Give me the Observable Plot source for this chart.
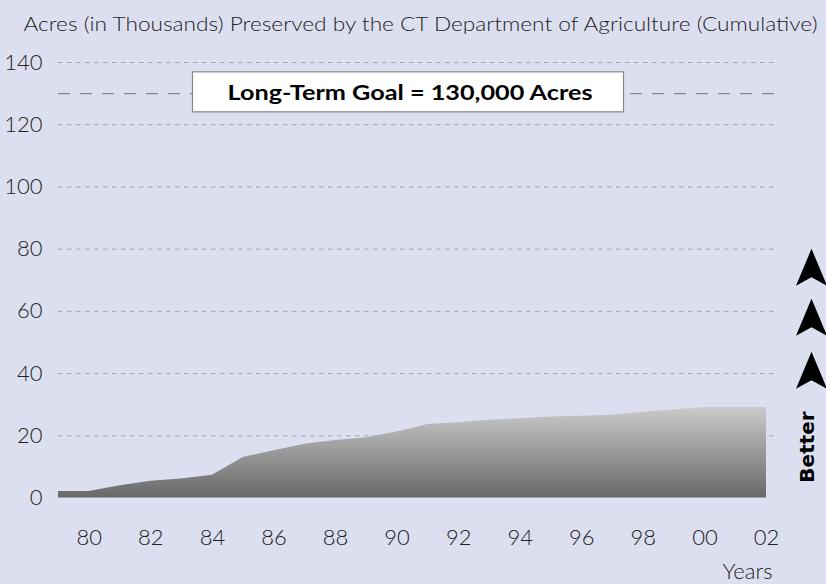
<!DOCTYPE html>
<html><head><meta charset="utf-8">
<script src="https://cdn.jsdelivr.net/npm/d3@7"></script>
<script src="https://cdn.jsdelivr.net/npm/@observablehq/plot@0.6"></script>
<style>
html,body{margin:0;padding:0;background:#dcdff0;}
#chart{width:826px;height:584px;overflow:hidden;}
</style></head><body><div id="chart"></div>
<script>
const years = [1979,1980,1981,1982,1983,1984,1985,1986,1987,1988,1989,1990,1991,1992,1993,1994,1995,1996,1997,1998,1999,2000,2001,2002];
const acres = [2.1,2.1,3.9,5.4,6.1,7.3,13.0,15.2,17.3,18.5,19.4,21.2,23.6,24.2,25.0,25.5,26.0,26.3,26.6,27.6,28.4,29.1,29.1,29.1];
const yTicks = [0,20,40,60,80,100,120,140];
const xTicks = [1980,1982,1984,1986,1988,1990,1992,1994,1996,1998,2000,2002];
const goal = 130;
const titleText = "Acres (in Thousands) Preserved by the CT Department of Agriculture (Cumulative)";
const goalText = "Long-Term Goal = 130,000 Acres";
const betterText = "Better";
const xAxisTitle = "Years";
const arrowOffsets = [-13, 37, 90];

const data = years.map((year, i) => ({year, acres: acres[i]}));

const gradient = () => {
  const defs = d3.create("svg:defs");
  const g = defs.append("linearGradient").attr("id", "areaGrad")
    .attr("x1", 0).attr("y1", 0).attr("x2", 0).attr("y2", 1);
  g.append("stop").attr("offset", "0%").attr("stop-color", "#cbcbcb");
  g.append("stop").attr("offset", "100%").attr("stop-color", "#686868");
  return defs.node();
};

const arrowSymbol = {
  draw(ctx) {
    ctx.moveTo(0, -18.5);
    ctx.lineTo(15.5, 18.5);
    ctx.lineTo(0, 10);
    ctx.lineTo(-15.5, 18.5);
    ctx.closePath();
  }
};

const plot = Plot.plot({
  width: 826,
  height: 584,
  marginLeft: 58,
  marginRight: 52,
  marginTop: 62,
  marginBottom: 86.5,
  style: {background: "transparent", fontFamily: "Lato, 'Open Sans', sans-serif", fontSize: "22px", color: "#222", fontWeight: 300},
  x: {domain: [1979, 2002], range: [58, 766], ticks: xTicks, tickFormat: d => String(d).slice(2), tickSize: 0, tickPadding: 31, label: null},
  y: {domain: [0, 140], ticks: yTicks, tickSize: 0, tickPadding: 16, label: null},
  marks: [
    gradient,
    Plot.ruleY(yTicks.filter(v => v > 0), {stroke: "#a6a6b0", strokeDasharray: "4.5,4.5", strokeWidth: 1}),
    Plot.ruleY([goal], {stroke: "#8a8a8a", strokeDasharray: "12,10", strokeWidth: 1.4}),
    Plot.areaY(data, {x: "year", y: "acres", fill: "url(#areaGrad)"}),
    Plot.text([goal], {y: d => d, text: () => goalText, frameAnchor: "middle", dx: -6.5, textAnchor: "middle", lineAnchor: "middle", fontSize: 21, fontWeight: "bold", fill: "#000", className: "goal-label"}),
    Plot.text([titleText], {text: d => d, frameAnchor: "top-left", dx: -35, dy: -37.7, textAnchor: "start", lineAnchor: "middle", fontSize: 20, fill: "#222", className: "title-label"}),
    Plot.text([xAxisTitle], {text: d => d, frameAnchor: "bottom-right", dx: -2, dy: 73.5, textAnchor: "end", lineAnchor: "middle", fontSize: 22, fill: "#222"}),
    ...arrowOffsets.map(o => Plot.dot([0], {frameAnchor: "right", dx: 37, dy: o, symbol: arrowSymbol, fill: "#000", stroke: "none"})),
    Plot.text([betterText], {text: d => d, frameAnchor: "right", dx: 33.5, dy: 166.75, rotate: -90, textAnchor: "middle", lineAnchor: "middle", fontSize: 20, fontWeight: "bold", fontFamily: "'DejaVu Sans', sans-serif", fill: "#000"})
  ]
});

document.getElementById("chart").appendChild(plot);

// white box behind the goal label (same local coordinates as the text)
const svg = d3.select(plot);
svg.selectAll(".goal-label text").each(function() {
  this.setAttribute("textLength", 365);
  this.setAttribute("lengthAdjust", "spacingAndGlyphs");
  const b = this.getBBox();
  const cx = b.x + b.width / 2, cy = b.y + b.height / 2;
  const rect = d3.select(this.parentNode).insert("rect", "text")
    .attr("x", cx - 217.5).attr("y", cy - 20)
    .attr("width", 431).attr("height", 40)
    .attr("fill", "#fff").attr("stroke", "#888").attr("stroke-width", 1.2);
  const tr = this.getAttribute("transform");
  if (tr) rect.attr("transform", tr);
  if (this.getAttribute("x")) rect.attr("x", cx - 217.5);
});
svg.selectAll(".title-label text").each(function() {
  this.setAttribute("textLength", 794);
  this.setAttribute("lengthAdjust", "spacingAndGlyphs");
});
</script>
</body></html>
